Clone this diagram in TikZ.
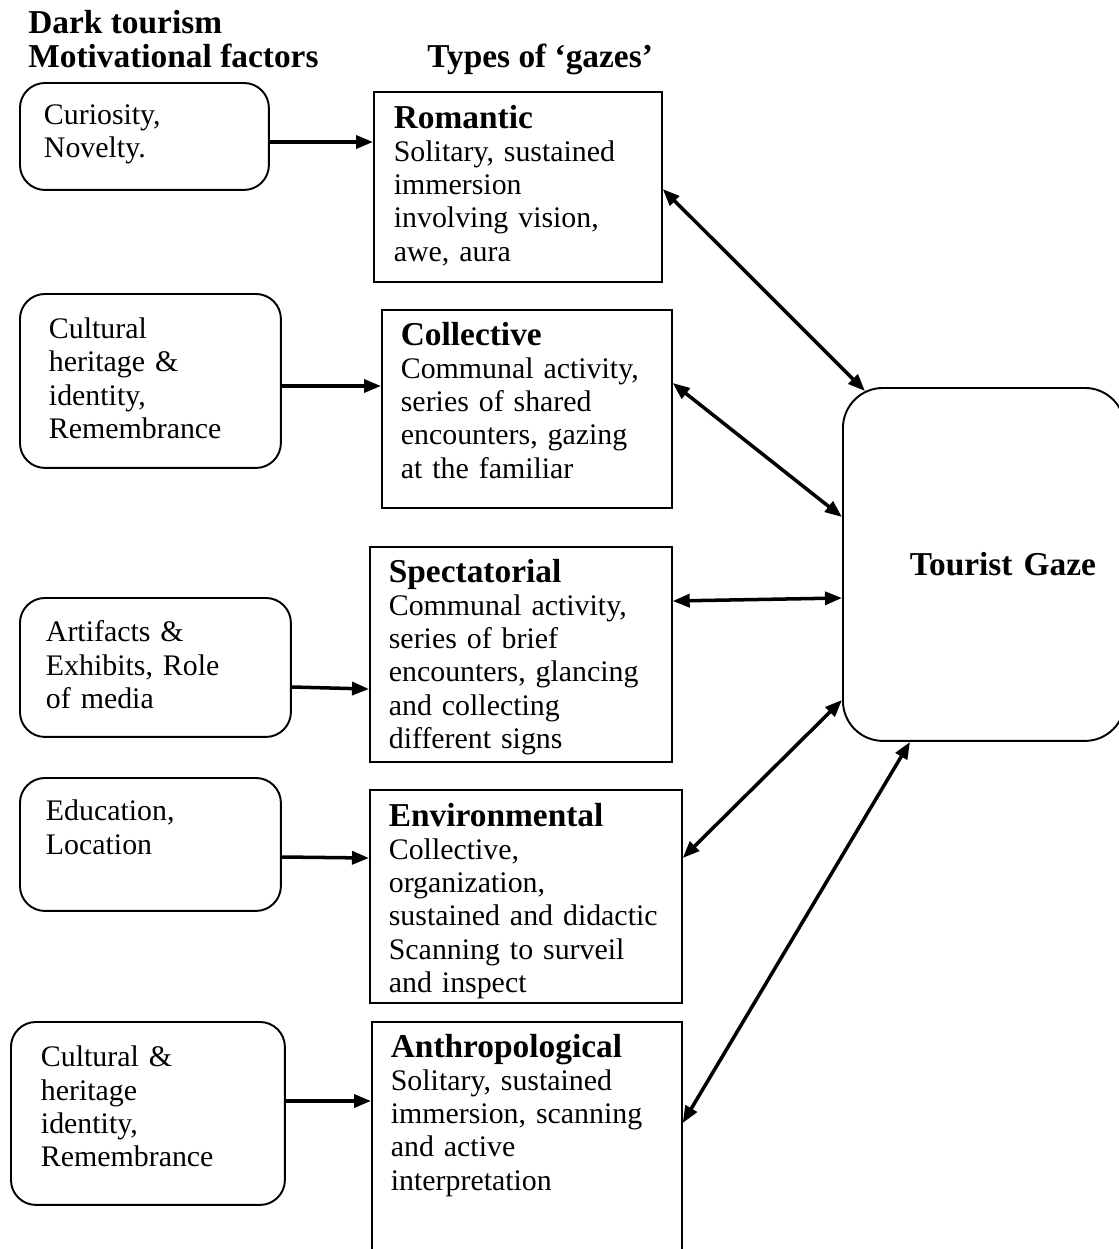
\documentclass[tikz,border=0pt]{standalone}
\usepackage{fontspec}
\setmainfont{Liberation Serif}
\usetikzlibrary{arrows.meta,positioning,calc}
\newcommand{\gazebody}{\fontsize{17}{18.8}\selectfont}
\newcommand{\gazehead}{\fontsize{19}{18.8}\selectfont\bfseries}
\tikzset{
  mbox/.style={draw,rounded corners=0.5cm,line width=1.1pt,anchor=north west,
               align=left,inner ysep=0pt,font=\gazebody},
  gbox/.style={draw,rectangle,line width=1pt,anchor=north west,
               align=left,inner ysep=0pt,font=\gazebody},
  hdr/.style={font=\gazehead,anchor=base west,inner sep=0pt},
  arr/.style={-{Triangle[length=0.34cm,width=0.26cm]},line width=2pt},
  darr/.style={{Triangle[length=0.34cm,width=0.26cm]}-{Triangle[length=0.34cm,width=0.26cm]},
               line width=2pt},
}

\begin{document}
\begin{tikzpicture}[x=0.02cm,y=-0.02cm]

  \useasboundingbox (0,0) rectangle (1119,1249);
  \clip (0,0) rectangle (1119,1249);

  \node[hdr] (hdark) at (28,33) {Dark tourism};
  \node[hdr] (hmot) at (28,67) {Motivational factors};
  \node[hdr] (htypes) at (427,67) {Types of ‘gazes’};

  \node[mbox,inner xsep=0.48cm,text width=4.02cm,text height=0.84cm,text depth=1.30cm]
    (cur) at (19,82) {Curiosity,\\Novelty.};
  \node[mbox,inner xsep=0.58cm,text width=4.06cm,text height=0.90cm,text depth=2.58cm]
    (cul) at (19,293) {Cultural\\heritage \&\\identity,\\Remembrance};
  \node[mbox,inner xsep=0.52cm,text width=4.38cm,text height=0.88cm,text depth=1.90cm]
    (art) at (19,597) {Artifacts \&\\Exhibits, Role\\of media};
  \node[mbox,inner xsep=0.52cm,text width=4.18cm,text height=0.86cm,text depth=1.80cm]
    (edu) at (19,777) {Education,\\Location};
  \node[mbox,inner xsep=0.60cm,text width=4.28cm,text height=0.90cm,text depth=2.76cm]
    (cuh) at (10,1021) {Cultural \&\\heritage\\identity,\\Remembrance};

  \node[gbox,inner xsep=0.40cm,text width=4.96cm,text height=0.74cm,text depth=3.06cm]
    (rom) at (373,91)
    {{\gazehead Romantic}\\Solitary, sustained\\immersion\\involving vision,\\awe, aura};
  \node[gbox,inner xsep=0.38cm,text width=5.04cm,text height=0.72cm,text depth=3.24cm]
    (col) at (381,309)
    {{\gazehead Collective}\\Communal activity,\\series of shared\\encounters, gazing\\at the familiar};
  \node[gbox,inner xsep=0.38cm,text width=5.28cm,text height=0.72cm,text depth=3.58cm]
    (spe) at (369,546)
    {{\gazehead Spectatorial}\\Communal activity,\\series of brief\\encounters, glancing\\and collecting\\different signs};
  \node[gbox,inner xsep=0.38cm,text width=5.48cm,text height=0.74cm,text depth=3.52cm]
    (env) at (369,789)
    {{\gazehead Environmental}\\Collective,\\organization,\\sustained and didactic\\Scanning to surveil\\and inspect};
  \node[gbox,inner xsep=0.38cm,text width=5.44cm,text height=0.72cm,text depth=4.86cm]
    (ant) at (371,1021)
    {{\gazehead Anthropological}\\Solitary, sustained\\immersion, scanning\\and active\\interpretation};

  \node[draw,rounded corners=0.8cm,line width=1.1pt,anchor=north west,
        minimum height=7.06cm,inner xsep=0.58cm,text width=4.48cm,align=right,
        font=\gazehead] (gaze) at (842,387) {Tourist Gaze};

  \draw[arr] (cur.east |- 0,142) -- (rom.west |- 0,142);
  \draw[arr] (cul.east |- 0,386) -- (col.west |- 0,386);
  \draw[arr] (art.east |- 0,687) -- (spe.west |- 0,689);
  \draw[arr] (edu.east |- 0,857) -- (env.west |- 0,858);
  \draw[arr] (cuh.east |- 0,1101) -- (ant.west |- 0,1101);

  \draw[darr] (rom.east |- 0,189) -- ($(gaze.north west)+(23,4)$);
  \draw[darr] (col.east |- 0,383) -- (gaze.west |- 0,517);
  \draw[darr] (spe.east |- 0,601) -- (gaze.west |- 0,598);
  \draw[darr] (env.east |- 0,858) -- (gaze.west |- 0,700);
  \draw[darr] (ant.east |- 0,1123) -- (gaze.south -| 910,0);

\end{tikzpicture}
\end{document}
